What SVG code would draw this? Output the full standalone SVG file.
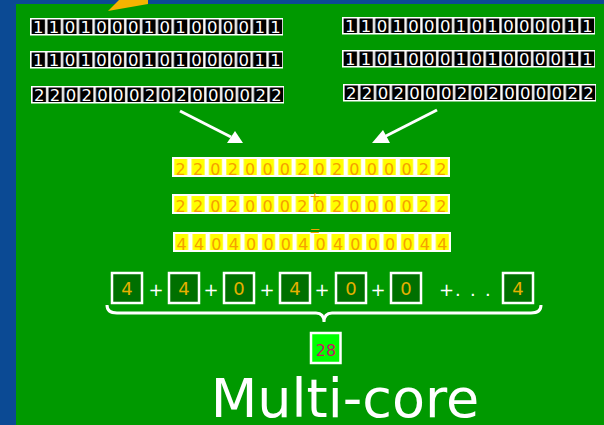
<svg xmlns="http://www.w3.org/2000/svg" width="604" height="425" viewBox="0 0 604 425">
<defs>
<style>
.bd{font-family:"DejaVu Sans",sans-serif;font-size:16.5px;fill:#fff;text-anchor:middle}
.yd{font-family:"DejaVu Sans",sans-serif;font-size:16px;fill:#f5a000;text-anchor:middle}
.sd{font-family:"DejaVu Sans",sans-serif;font-size:18px;fill:#e6b000;text-anchor:middle}
.pl{font-family:"DejaVu Sans",sans-serif;font-size:18px;fill:#fff;text-anchor:middle}
.box{fill:#007000;stroke:#fff;stroke-width:2.5}
.arr{stroke:#fff;stroke-width:3;fill:none}
</style>
<pattern id="pBlk" width="15.8125" height="40" patternUnits="userSpaceOnUse"><rect x="1.6" y="0" width="13.4" height="40" fill="#000"/></pattern>
<pattern id="pYel" width="17.375" height="40" patternUnits="userSpaceOnUse"><rect x="2.2" y="0" width="13" height="40" fill="#ffff00"/></pattern>
</defs>
<rect width="604" height="425" fill="#0b4a94"/>
<rect x="16" y="4" width="588" height="421" fill="#009900"/>
<polygon points="108,11 119,0 148,0 148,4" fill="#f5b400"/>

<g id="L1" transform="translate(30,18)"><rect width="253" height="17.5" fill="#fff"/><rect y="1.5" width="253" height="14.5" fill="url(#pBlk)"/>
<text class="bd" y="15" x="8.3 24.11 39.93 55.74 71.55 87.36 103.18 118.99 134.8 150.61 166.43 182.24 198.05 213.86 229.68 245.49">1101000101000011</text></g>
<g id="L2" transform="translate(30,51)"><rect width="253" height="17.5" fill="#fff"/><rect y="1.5" width="253" height="14.5" fill="url(#pBlk)"/>
<text class="bd" y="15" x="8.3 24.11 39.93 55.74 71.55 87.36 103.18 118.99 134.8 150.61 166.43 182.24 198.05 213.86 229.68 245.49">1101000101000011</text></g>
<g id="L3" transform="translate(31,86)"><rect width="253" height="17.5" fill="#fff"/><rect y="1.5" width="253" height="14.5" fill="url(#pBlk)"/>
<text class="bd" y="15" x="8.3 24.11 39.93 55.74 71.55 87.36 103.18 118.99 134.8 150.61 166.43 182.24 198.05 213.86 229.68 245.49">2202000202000022</text></g>

<g id="R1" transform="translate(342,17)"><rect width="253" height="17.5" fill="#fff"/><rect y="1.5" width="253" height="14.5" fill="url(#pBlk)"/>
<text class="bd" y="15" x="8.3 24.11 39.93 55.74 71.55 87.36 103.18 118.99 134.8 150.61 166.43 182.24 198.05 213.86 229.68 245.49">1101000101000011</text></g>
<g id="R2" transform="translate(342,50)"><rect width="253" height="17.5" fill="#fff"/><rect y="1.5" width="253" height="14.5" fill="url(#pBlk)"/>
<text class="bd" y="15" x="8.3 24.11 39.93 55.74 71.55 87.36 103.18 118.99 134.8 150.61 166.43 182.24 198.05 213.86 229.68 245.49">1101000101000011</text></g>
<g id="R3" transform="translate(343,84)"><rect width="253" height="17.5" fill="#fff"/><rect y="1.5" width="253" height="14.5" fill="url(#pBlk)"/>
<text class="bd" y="15" x="8.3 24.11 39.93 55.74 71.55 87.36 103.18 118.99 134.8 150.61 166.43 182.24 198.05 213.86 229.68 245.49">2202000202000022</text></g>

<g id="connectors">
<line class="arr" x1="180" y1="111" x2="231" y2="137"/>
<polygon points="243,143 227,143 235,131" fill="#fff"/>
<line class="arr" x1="437" y1="110" x2="384" y2="137"/>
<polygon points="372,143 390,143 383,130" fill="#fff"/>
<path class="arr" stroke-width="2.5" d="M107,305 Q107,313 117,313 H316 Q324,313 324,322 Q324,313 332,313 H531 Q541,313 541,305"/>
</g>

<g id="Y1" transform="translate(172,157)"><rect width="278" height="20" fill="#fff"/><rect y="2" width="278" height="16" fill="url(#pYel)"/>
<text class="yd" y="17.5" x="8.7 26.08 43.45 60.83 78.2 95.58 112.95 130.33 147.7 165.08 182.45 199.83 217.2 234.58 251.95 269.33">2202000202000022</text></g>
<g id="Y2" transform="translate(172,194)"><rect width="278" height="20" fill="#fff"/><rect y="2" width="278" height="16" fill="url(#pYel)"/>
<text class="yd" y="17.5" x="8.7 26.08 43.45 60.83 78.2 95.58 112.95 130.33 147.7 165.08 182.45 199.83 217.2 234.58 251.95 269.33">2202000202000022</text></g>
<g id="Y3" transform="translate(173,232)"><rect width="278" height="20" fill="#fff"/><rect y="2" width="278" height="16" fill="url(#pYel)"/>
<text class="yd" y="17.5" x="8.7 26.08 43.45 60.83 78.2 95.58 112.95 130.33 147.7 165.08 182.45 199.83 217.2 234.58 251.95 269.33">4404000404000044</text></g>
<text font-family="DejaVu Sans,sans-serif" font-size="13" fill="#f5a000" text-anchor="middle" x="315" y="201">+</text>
<text font-family="DejaVu Sans,sans-serif" font-size="13" fill="#f5a000" text-anchor="middle" x="315" y="235">=</text>

<g id="S1"><rect class="box" x="112" y="273" width="30" height="30"/><text class="sd" x="127" y="295">4</text></g>
<g id="S2"><rect class="box" x="169" y="273" width="30" height="30"/><text class="sd" x="184" y="295">4</text></g>
<g id="S3"><rect class="box" x="224" y="273" width="30" height="30"/><text class="sd" x="239" y="295">0</text></g>
<g id="S4"><rect class="box" x="280" y="273" width="30" height="30"/><text class="sd" x="295" y="295">4</text></g>
<g id="S5"><rect class="box" x="336" y="273" width="30" height="30"/><text class="sd" x="351" y="295">0</text></g>
<g id="S6"><rect class="box" x="391" y="273" width="30" height="30"/><text class="sd" x="406" y="295">0</text></g>
<g id="S7"><rect class="box" x="503" y="273" width="30" height="30"/><text class="sd" x="518" y="295">4</text></g>
<g id="ops">
<text class="pl" x="156" y="296">+</text><text class="pl" x="211" y="296">+</text><text class="pl" x="267" y="296">+</text><text class="pl" x="322" y="296">+</text><text class="pl" x="378" y="296">+</text>
<text class="pl" style="text-anchor:start" x="439 455 470 485" y="296">+...</text>
</g>

<g id="total"><rect x="311" y="333" width="29.5" height="30" fill="#00ff00" stroke="#fff" stroke-width="2.5"/><text font-family="DejaVu Sans,sans-serif" font-size="16" fill="#c81464" text-anchor="middle" x="326" y="355.5">28</text></g>

<text font-family="DejaVu Sans,sans-serif" font-size="54" fill="#fff" text-anchor="middle" x="345" y="417">Multi-core</text>
</svg>
